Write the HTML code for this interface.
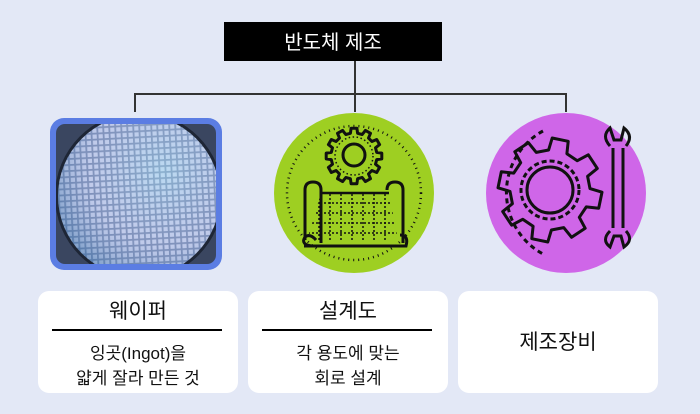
<!DOCTYPE html>
<html><head><meta charset="utf-8"><style>
body{margin:0;width:700px;height:414px;background:#e3e8f6;overflow:hidden;font-family:"Liberation Sans","Noto Sans CJK KR",sans-serif}
</style></head><body>
<svg id="s" width="700" height="414" xmlns="http://www.w3.org/2000/svg" style="position:absolute;left:0;top:0">
<defs>
<pattern id="grid" width="6" height="6" patternUnits="userSpaceOnUse" patternTransform="rotate(-3)">
<rect width="6" height="6" fill="#7489b0"/><rect x="1.3" y="1.3" width="4.2" height="4.2" fill="#c9d4ee"/>
</pattern>
<radialGradient id="wg" cx="0.65" cy="0.35" r="0.75"><stop offset="0" stop-color="#a8e0f4" stop-opacity="0.45"/><stop offset="0.6" stop-color="#a8b0e0" stop-opacity="0.25"/><stop offset="1" stop-color="#2f68a0" stop-opacity="0.55"/></radialGradient>
<clipPath id="wc"><rect x="56" y="124" width="160" height="140" rx="9"/></clipPath>
<clipPath id="bp"><path d="M321 193 L389 193 L398 240 L307 240 Z"/></clipPath>
</defs>
<rect x="224" y="22" width="218" height="39" fill="#000"/>
<text x="333" y="49" fill="#fff" font-size="20" text-anchor="middle">반도체 제조</text>
<g stroke="#333" stroke-width="2" fill="none">
<path d="M355 61V112M135 94H566M135 93V112M566 93V112"/>
</g>
<rect x="50" y="118" width="172" height="152" rx="14" fill="#5b7de3"/>
<g clip-path="url(#wc)">
<rect x="56" y="124" width="160" height="140" fill="#3a4660"/>
<circle cx="139" cy="196" r="84" fill="#1e2636"/>
<circle cx="139" cy="196" r="81" fill="url(#grid)"/>
<circle cx="139" cy="196" r="81" fill="url(#wg)"/>
</g>
<circle cx="354" cy="193" r="80" fill="#9ecf22"/>
<g fill="none" stroke="#111" stroke-width="3">
<path id="g1" stroke-linejoin="round"/>
<circle cx="354" cy="156" r="19" stroke-width="1.5" stroke-dasharray="1.5 2.5"/>
<circle cx="354" cy="155" r="11"/>
<circle cx="354" cy="193" r="67" stroke-width="2.5" stroke-dasharray="1 4"/>
<g clip-path="url(#bp)" stroke-width="1.5" stroke-dasharray="2 2">
<path d="M300 203H410M300 213H410M300 223H410M300 233H410M330 190V245M341 190V245M352 190V245M363 190V245M374 190V245M385 190V245M319 190V245"/>
</g>
<path d="M321 193 L389 193" stroke-width="2.5"/>
<path d="M305 240 V190 Q305 182 313 182 Q321 182 321 190 V243 M387 190 Q387 182 395 182 Q403 182 403 190 V243 M304 246 H406 Q409 235 400 235 M313 246 Q300 245 305 237 Q310 233 316 240"/>
</g>
<circle cx="566" cy="193" r="80" fill="#cf66e8"/>
<g fill="none" stroke="#111" stroke-width="3">
<path id="g2" stroke-linejoin="round"/>
<circle cx="550" cy="190" r="23"/>
<circle cx="550" cy="190" r="29" stroke-dasharray="5 3"/>
<path d="M543 131 A70 70 0 0 0 543 254" stroke-dasharray="5 4"/>
<path d="M613 148 V228 M623 148 V228 M610 146 Q601 136 610 128 L614 140 L621 140 L624 128 Q634 136 626 146 M610 231 Q601 240 610 247 L614 236 L621 236 L624 247 Q634 240 626 231"/>
</g>
<rect x="38" y="291" width="200" height="102" rx="11" fill="#fff"/>
<rect x="248" y="291" width="200" height="102" rx="11" fill="#fff"/>
<rect x="458" y="291" width="200" height="102" rx="11" fill="#fff"/>
<path d="M52 330H222M262 330H432" stroke="#000" stroke-width="2"/>
<g font-size="21" text-anchor="middle" fill="#111">
<text x="138" y="318">웨이퍼</text>
<text x="348" y="318">설계도</text>
<text x="558" y="349">제조장비</text>
</g>
<g font-size="17" text-anchor="middle" fill="#111">
<text x="138" y="359">잉곳(Ingot)을</text>
<text x="138" y="384">얇게 잘라 만든 것</text>
<text x="348" y="359">각 용도에 맞는</text>
<text x="348" y="384">회로 설계</text>
</g>
</svg>
<script>
function gear(id,cx,cy,n,ro,ri,off){var d="",s=Math.PI*2/n;for(var i=0;i<n;i++){var a=i*s+off;var pts=[[ri,a-s*0.3],[ro,a-s*0.2],[ro,a+s*0.2],[ri,a+s*0.3],[ri,a+s*0.7]];pts.forEach(function(p,j){d+=(i==0&&j==0?"M":"L")+(cx+p[0]*Math.cos(p[1])).toFixed(1)+" "+(cy+p[0]*Math.sin(p[1])).toFixed(1)});}
document.getElementById(id).setAttribute("d",d+"Z");}
gear("g1",354,156,12,28,23,0);
gear("g2",550,190,8,52,40,0.2);
</script>
</body></html>
